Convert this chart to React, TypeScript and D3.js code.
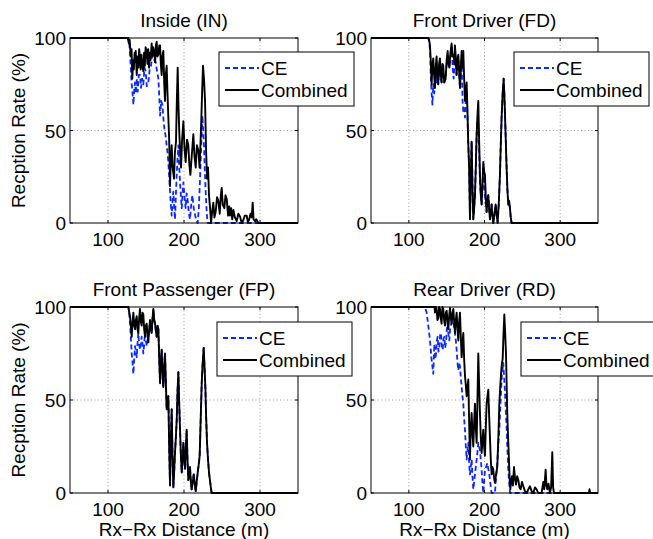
import React from 'react';
import * as d3 from 'd3';

const titles = ['Inside (IN)', 'Front Driver (FD)', 'Front Passenger (FP)', 'Rear Driver (RD)'];
const xTicks = [100, 200, 300];
const yTicks = [0, 50, 100];
const xDomain: [number, number] = [50, 350];
const yDomain: [number, number] = [0, 100];
const legendLabels = ['CE', 'Combined'];
const xAxisLabel = 'Rx\u2212Rx Distance (m)';
const yAxisLabel = 'Recption Rate (%)';

type P = [number, number];

const inCombined: P[] = [[50,100],[126,100],[127.5,97],[128.5,99],[130,90],[131,94],[132,78],[133,88],[134,83],[135,92],[135.6,87],[136.5,93],[137.8,80],[139,90],[140,84],[141,94],[142.1,89],[143,83],[144,91],[145,86],[146.5,82],[147.5,92],[148.5,85],[149.5,95],[150.9,93],[152,86],[153,94],[154,84],[155,92],[156,88],[157.5,97],[158.5,90],[159.5,95],[161,92],[162,87],[163,96],[164.1,98],[165,90],[166.3,91],[167.5,96],[168.5,96],[169.5,86],[170.6,80],[171.5,90],[172.8,93],[174,75],[175,66],[176,80],[177.2,85],[178.3,70],[179.4,57],[180.5,45],[181.6,20],[182.7,35],[183.8,42],[185,30],[186.9,24],[188,38],[189.5,44],[190.5,65],[191.7,84],[192.8,62],[193.9,48],[195,38],[196.1,30],[197.5,45],[199.2,55],[200.7,40],[202.2,33],[204,45],[205.7,42],[207,32],[208.4,26],[210.5,38],[212.3,48],[213.8,36],[215.4,30],[217,42],[218.9,39],[220.5,30],[222.4,51],[223.8,70],[225,85],[226.3,78],[227.7,66],[229,40],[230.3,24],[231.6,30],[232.9,15],[234.3,8],[235.6,0],[237,6],[238.6,11],[240,3],[241.7,6],[243.5,14],[245.2,12],[247,5],[248.5,15],[249.6,19],[251,10],[253.1,8],[254.6,15],[256.2,13],[258,4],[259.5,9],[260.6,4],[262,8],[263.5,2],[265,7],[267,3],[269.3,1],[271.5,5],[273.7,3.5],[276,0],[278.1,1.6],[280,4],[282.5,4],[284,0.5],[285.6,1.6],[287.5,5],[289,3],[290.4,11],[291.5,2],[293.5,1],[295,2],[297.8,0],[350,0]];

const inCE: P[] = [[50,100],[127,100],[128,97],[129,91],[130,84],[131.2,75],[132.3,70],[133.4,64],[134.5,72],[135.6,76],[136.8,70],[138,78],[139.1,71],[140.5,80],[142.1,80],[143.5,73],[145,78],[146.5,75],[148,84],[149.6,82],[151,74],[153.1,76],[154.8,83],[156.6,85],[158,90],[159.7,93],[161,88],[162.8,87],[164.5,82],[166.3,78],[167.5,68],[168.5,58],[170,66],[171.5,64],[173,56],[174.2,51],[175.8,47],[177.2,42],[178.3,38],[179.4,33],[180.5,25],[181.6,17],[182.7,10],[183.8,4],[185,12],[186,17],[187,9],[188.2,2],[189.3,15],[190.4,26],[191.5,35],[192.6,42],[193.7,30],[194.8,22],[196,14],[197,8],[198,15],[199.2,22],[200.7,14],[202.2,8],[203.5,16],[204.9,12],[206.5,5],[207.9,2],[209.5,10],[211,15],[212.8,8],[214.5,4.5],[216.3,1],[218,0],[219.5,8],[221.1,24],[222.7,42],[224.2,58],[225.3,50],[226.3,42],[227.4,28],[228.5,17],[230,5],[231.2,0],[350,0]];

const fdCombined: P[] = [[50,100],[125.7,100],[126.8,99],[127.9,96],[129,88],[130.1,75],[131.2,85],[132.3,89],[133.4,80],[134.5,73],[135.6,85],[136.7,90],[137.8,80],[138.9,75],[140,86],[141.1,89],[142.2,80],[143.3,76],[144.4,86],[145.5,85],[146.8,76],[148.6,78],[150,88],[151.3,93],[152.4,86],[153.5,84],[155,92],[156.5,97],[157.8,90],[159.2,91],[160.2,86],[160.9,96],[162,90],[163.1,80],[164.3,88],[165.4,91],[166.5,82],[167.6,73],[168.7,85],[169.8,93],[171,84],[172,93],[173.1,78],[174.2,66],[175.3,72],[176.4,76],[177.5,60],[178.6,42],[179.7,30],[180.8,2],[181.9,25],[183,44],[184.1,20],[185.2,2],[186.3,8],[187.4,15],[188.5,30],[189.6,48],[190.7,58],[191.8,66],[192.9,45],[194,26],[195.1,15],[196.2,10],[197.3,20],[198.4,33],[199.5,28],[200.6,26],[201.7,14],[202.8,6],[203.9,12],[205,15],[206.1,8],[207.2,2],[208.3,6],[209.4,10],[210.5,4],[211.6,0],[213,4],[214.7,10],[216,5],[217.3,0],[218.8,10],[220.4,26],[221.5,42],[222.6,57],[224,70],[225.3,78],[226.2,70],[227,60],[228.1,45],[229.2,30],[230.3,18],[231.4,10],[232.5,12],[233.6,8],[234.7,3],[235.8,0],[350,0]];

const fdCE: P[] = [[50,100],[125.7,100],[126.8,98],[127.9,94],[129,80],[130.1,70],[131.2,64],[132.3,75],[133.4,70],[134.5,73],[135.6,80],[136.7,76],[137.8,82],[138.9,75],[140,84],[141.1,80],[142.2,78],[143.3,76],[144.4,84],[145.5,80],[146.8,76],[148.6,78],[150,86],[151.3,90],[152.4,86],[153.5,84],[155,90],[156.5,95],[157.8,85],[159.2,78],[160.2,84],[160.9,92],[162,88],[163.1,80],[164.3,86],[165.4,88],[166.5,80],[167.6,73],[168.7,80],[169.8,88],[171,66],[172,60],[173.1,62],[174.2,57],[175.3,68],[176.4,72],[177.5,58],[178.6,42],[179.7,30],[180.8,2],[181.9,25],[183,44],[184.1,20],[185.2,2],[186.3,8],[187.4,15],[188.5,30],[189.6,48],[190.7,55],[191.8,48],[192.9,40],[194,22],[195.1,15],[196.2,10],[197.3,20],[198.4,30],[199.5,20],[200.6,14],[201.7,10],[202.8,6],[203.9,12],[205,15],[206.1,8],[207.2,2],[208.3,6],[209.4,10],[210.5,4],[211.6,0],[213,4],[214.7,10],[216,5],[217.3,0],[218.8,10],[220.4,26],[221.5,42],[222.6,57],[224,70],[225.3,78],[226.2,70],[227,60],[228.1,45],[229.2,30],[230.3,18],[231.4,10],[232.5,12],[233.6,8],[234.7,3],[235.8,0],[350,0]];

const fpCombined: P[] = [[50,100],[126.8,100],[128,97],[129,95],[130,90],[131.2,84],[132.3,92],[133.4,97],[134.5,90],[135.6,88],[136.7,93],[137.8,95],[138.8,88],[139.9,86],[141,94],[142.1,99],[143.2,92],[144.3,90],[145.4,97],[146.5,96],[147.6,88],[148.7,84],[149.8,90],[150.9,91],[152,85],[153.1,81],[154.2,88],[155.3,93],[156.4,88],[157.5,86],[158.6,94],[159.7,99],[160.8,93],[161.9,91],[163,87],[164.1,84],[165.2,90],[166.3,88],[167.4,72],[168.5,59],[169.5,70],[170.6,77],[171.7,65],[172.8,57],[173.9,68],[175,75],[176.1,60],[177.2,45],[178.3,50],[179.4,52],[180.5,25],[181.6,4],[182.7,28],[183.8,45],[184.9,20],[186,3],[187.1,12],[188.2,22],[189.3,30],[190.4,39],[191.5,55],[192.6,65],[193.7,48],[194.8,34],[195.9,20],[197,11],[198.1,18],[199.2,27],[200.3,18],[201.4,13],[202.5,25],[203.5,34],[204.6,18],[205.7,7],[206.8,10],[207.9,14],[209,6],[210.1,2],[211.5,6],[212.8,10],[214.1,5],[215.4,1],[216.7,6],[218,11],[219.3,15],[220.6,20],[222,40],[223.3,59],[224.6,70],[225.9,78],[227,68],[228.1,57],[229.2,40],[230.3,27],[231.6,18],[232.9,11],[233.8,8],[234.7,5],[235.6,2],[236.4,0],[350,0]];

const fpCE: P[] = [[50,100],[126.8,100],[128,96],[129,91],[130,84],[131.2,75],[132.3,70],[133.4,64],[134.5,72],[135.6,79],[136.7,76],[137.8,73],[138.8,80],[139.9,86],[141,80],[142.1,77],[143.2,80],[144.3,84],[145.4,80],[146.5,75],[147.6,80],[148.7,86],[149.8,82],[150.9,79],[152,82],[153.1,84],[154.2,88],[155.3,91],[156.4,88],[157.5,86],[158.6,94],[159.7,99],[160.8,93],[161.9,91],[163,87],[164.1,84],[165.2,90],[166.3,88],[167.4,72],[168.5,59],[169.5,70],[170.6,77],[171.7,65],[172.8,57],[173.9,68],[175,75],[176.1,60],[177.2,45],[178.3,50],[179.4,52],[180.5,25],[181.6,4],[182.7,28],[183.8,45],[184.9,20],[186,3],[187.1,12],[188.2,22],[189.3,30],[190.4,39],[191.5,55],[192.6,65],[193.7,48],[194.8,34],[195.9,20],[197,11],[198.1,18],[199.2,27],[200.3,18],[201.4,13],[202.5,25],[203.5,34],[204.6,18],[205.7,7],[206.8,10],[207.9,14],[209,6],[210.1,2],[211.5,6],[212.8,10],[214.1,5],[215.4,1],[216.7,6],[218,11],[219.3,15],[220.6,20],[222,40],[223.3,59],[224.6,70],[225.9,78],[227,68],[228.1,57],[229.2,40],[230.3,27],[231.6,18],[232.9,11],[233.8,8],[234.7,5],[235.6,2],[236.4,0],[350,0]];

const rdCombined: P[] = [[50,100],[134,100],[134.5,97],[135.6,100],[136.7,99],[137.8,93],[139,94],[140,100],[141.1,99],[142.2,94],[143.3,91],[144.4,100],[145.5,99],[146.6,93],[147.8,90],[148.9,97],[150,98],[151.1,92],[152.2,88],[153.3,95],[154.4,99.5],[155.5,94],[156.6,91],[157.7,97],[158.8,99],[159.9,92],[161,86],[162.1,93],[163.2,97],[164.3,88],[165.4,82],[166.5,92],[167.6,97],[168.7,84],[169.8,73],[170.9,80],[172,86],[173.1,72],[174.2,63],[175.3,58],[176.4,52],[177.5,57],[178.6,61],[179.7,38],[180.8,18],[181.9,35],[183,43],[184.1,32],[185.2,25],[186.3,38],[187.4,48],[188.5,35],[189.6,27],[190.7,50],[191.8,75],[192.9,58],[194,43],[195.1,30],[196.2,21.5],[197.3,28],[198.4,34],[199.5,25],[200.6,20],[201.7,35],[202.8,48],[203.9,52],[205,55.5],[206.1,42],[207.2,30],[208.3,18],[209.4,10],[210.5,14],[211.6,12.5],[212.7,8],[213.8,5.4],[215.3,10],[216.9,14],[218.3,30],[219.6,48],[220.9,58],[222.2,66],[223.1,70],[224,72],[225.1,85],[226.2,96],[227.3,86],[228.4,75],[229.3,58],[230.1,43],[231.2,30],[232.3,18],[233.2,8],[234.1,2],[235.2,6],[236.3,9],[237.6,4],[239,14],[240.3,8],[241.6,4.5],[243.2,9],[244.7,7],[246.2,3],[247.8,2],[249.5,6],[251.3,3.6],[253.5,1],[255.7,0],[258,2],[260.1,3.6],[262.3,1],[264.5,0],[266.7,3],[268.9,2],[271,0],[275.5,0],[276.6,3],[277.7,6],[279,2],[280.8,12.5],[281.9,4],[283,2],[284.5,5],[286.5,0],[288,3],[289.6,22],[290.7,3],[291.8,0],[338,0],[338.8,2],[339.6,0],[350,0]];

const rdCE: P[] = [[50,100],[121.3,100],[123.5,97],[125.7,90],[128,82],[130,72],[132.3,64],[133.7,80],[135,72],[136,75],[137,82],[138.1,84],[139.2,76],[140.3,79],[141.4,85],[142.5,86],[143.6,78],[144.7,77],[145.8,83],[146.9,84],[148,78],[149.1,81],[150.2,88],[151.3,91],[152.4,85],[153.5,82],[154.6,88],[155.7,90],[156.8,93],[157.9,95],[159.5,90],[161,86],[162.1,82],[163.2,77],[164.3,70],[165.4,66],[166.5,70],[167.6,68],[168.7,62],[169.8,57],[170.9,52],[172,48],[173.1,40],[174.2,34],[175.3,25],[176.4,18],[177.5,23],[178.6,27],[179.7,16],[180.8,10],[181.9,14],[183,18],[184.1,9],[185.2,2],[186.3,6],[187.4,10],[188.5,14],[189.6,18],[190.7,22],[191.8,27],[192.9,25],[194,23],[195.1,18],[196.2,12.5],[197.3,5],[198.4,0],[199.5,6],[200.6,12.5],[202.2,14],[203.7,16],[205,13],[206.3,10],[207.8,5],[209.4,0],[213.8,0],[215.3,8],[216.9,16],[218.3,26],[219.6,34],[221.1,48],[222.6,61],[223.7,66],[224.8,70],[225.9,62],[227,55],[228.2,44],[229.3,34],[230.4,22],[231.5,12.5],[232.6,5],[233.7,0],[350,0]];

const FONT = '"Liberation Sans", Arial, Helvetica, sans-serif';
const FS = 19;

interface PanelDef {
  title: string;
  ce: P[];
  comb: P[];
  left: number;
  right: number;
  top: number;
  bottom: number;
  yLabel: boolean;
  xLabel: boolean;
  legendX: number;
  legendY: number;
}

const panels: PanelDef[] = [
  { title: titles[0], ce: inCE, comb: inCombined, left: 70, right: 298, top: 38, bottom: 223, yLabel: true, xLabel: false, legendX: 219, legendY: 52 },
  { title: titles[1], ce: fdCE, comb: fdCombined, left: 371, right: 598, top: 38, bottom: 223, yLabel: false, xLabel: false, legendX: 514, legendY: 52 },
  { title: titles[2], ce: fpCE, comb: fpCombined, left: 70, right: 298, top: 307, bottom: 493, yLabel: true, xLabel: true, legendX: 217, legendY: 322 },
  { title: titles[3], ce: rdCE, comb: rdCombined, left: 371, right: 598, top: 307, bottom: 493, yLabel: false, xLabel: true, legendX: 521, legendY: 322 },
];

function Panel({ p, idx }: { p: PanelDef; idx: number }) {
  const x = d3.scaleLinear().domain(xDomain).range([p.left, p.right]);
  const y = d3.scaleLinear().domain(yDomain).range([p.bottom, p.top]);
  const line = d3.line<P>().x(d => x(d[0])).y(d => y(d[1]));
  const clipId = `clip${idx}`;
  const cx = (p.left + p.right) / 2;
  const cy = (p.top + p.bottom) / 2;
  const tickLen = 3;
  return (
    <g>
      <defs>
        <clipPath id={clipId}>
          <rect x={p.left} y={p.top - 1} width={p.right - p.left} height={p.bottom - p.top + 2} />
        </clipPath>
      </defs>
      <rect x={p.left} y={p.top} width={p.right - p.left} height={p.bottom - p.top} fill="#fff" />
      {xTicks.map(t => (
        <line key={'gx' + t} x1={x(t)} x2={x(t)} y1={p.top} y2={p.bottom} stroke="#8a8a8a" strokeWidth={0.8} strokeDasharray="1,2.5" />
      ))}
      {yTicks.filter(t => t !== 0 && t !== 100).map(t => (
        <line key={'gy' + t} x1={p.left} x2={p.right} y1={y(t)} y2={y(t)} stroke="#8a8a8a" strokeWidth={0.8} strokeDasharray="1,2.5" />
      ))}
      <g clipPath={`url(#${clipId})`}>
        <path d={line(p.ce) || ''} fill="none" stroke="#0a2aff" strokeWidth={1.8} strokeDasharray="5,3" strokeLinejoin="round" />
        <path d={line(p.comb) || ''} fill="none" stroke="#000" strokeWidth={1.9} strokeLinejoin="round" />
      </g>
      <rect x={p.left} y={p.top} width={p.right - p.left} height={p.bottom - p.top} fill="none" stroke="#000" strokeWidth={1} />
      {xTicks.map(t => (
        <g key={'tx' + t}>
          <line x1={x(t)} x2={x(t)} y1={p.bottom} y2={p.bottom - tickLen} stroke="#000" />
          <line x1={x(t)} x2={x(t)} y1={p.top} y2={p.top + tickLen} stroke="#000" />
          <text x={x(t)} y={p.bottom + 23} textAnchor="middle" fontFamily={FONT} fontSize={FS}>{t}</text>
        </g>
      ))}
      {yTicks.map(t => (
        <g key={'ty' + t}>
          <line x1={p.left} x2={p.left + tickLen} y1={y(t)} y2={y(t)} stroke="#000" />
          <line x1={p.right} x2={p.right - tickLen} y1={y(t)} y2={y(t)} stroke="#000" />
          <text x={p.left - 4} y={y(t) + 7} textAnchor="end" fontFamily={FONT} fontSize={FS}>{t}</text>
        </g>
      ))}
      <text x={cx} y={p.top - 11} textAnchor="middle" fontFamily={FONT} fontSize={FS}>{p.title}</text>
      {p.yLabel && (
        <text transform={`translate(25,${cy}) rotate(-90)`} textAnchor="middle" fontFamily={FONT} fontSize={FS}>{yAxisLabel}</text>
      )}
      {p.xLabel && (
        <text x={cx} y={p.bottom + 43} textAnchor="middle" fontFamily={FONT} fontSize={FS}>{xAxisLabel}</text>
      )}
      <g transform={`translate(${p.legendX},${p.legendY})`}>
        <rect x={0} y={0} width={135} height={54} fill="#fff" stroke="#000" strokeWidth={1} />
        <line x1={6} x2={40} y1={16} y2={16} stroke="#0a2aff" strokeWidth={1.8} strokeDasharray="5,3" />
        <text x={42} y={23} fontFamily={FONT} fontSize={FS}>{legendLabels[0]}</text>
        <line x1={6} x2={40} y1={38} y2={38} stroke="#000" strokeWidth={1.9} />
        <text x={42} y={45} fontFamily={FONT} fontSize={FS}>{legendLabels[1]}</text>
      </g>
    </g>
  );
}

export default function App() {
  return (
    <svg width={653} height={539} style={{ position: 'absolute', left: 0, top: 0, background: '#fff' }}>
      <rect x={0} y={0} width={653} height={539} fill="#fff" />
      {panels.map((p, i) => <Panel key={i} p={p} idx={i} />)}
    </svg>
  );
}
